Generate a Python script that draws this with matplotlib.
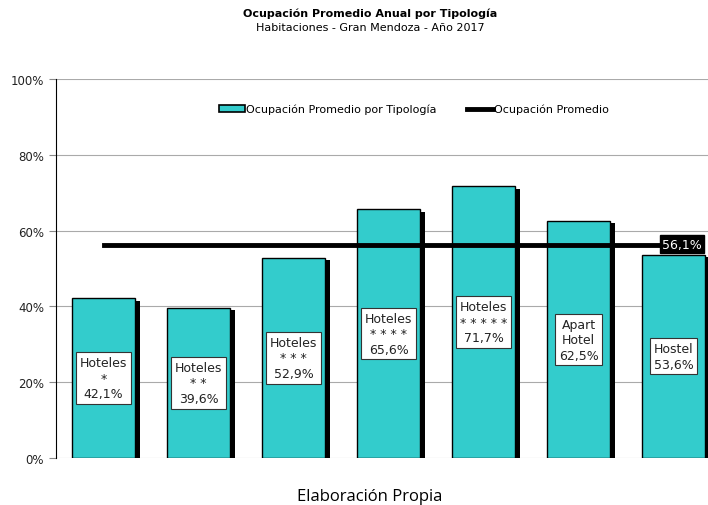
import numpy as np
import matplotlib.pyplot as plt
from matplotlib.lines import Line2D
from matplotlib.patches import Patch

categorias = ["Hoteles\n*", "Hoteles\n* *", "Hoteles\n* * *", "Hoteles\n* * * *",
              "Hoteles\n* * * * *", "Apart\nHotel", "Hostel"]
ocupacion = [42.1, 39.6, 52.9, 65.6, 71.7, 62.5, 53.6]
promedio = 56.1

teal = "#33CCCC"

def fmt(v):
    return f"{v:.1f}%".replace(".", ",")

fig = plt.figure(figsize=(7.08, 5.06), dpi=100)
ax = fig.add_axes([56/708, 47/506, (708-56)/708, (459-80)/506])

x = np.arange(len(ocupacion))
w = 0.67
# sombra de las barras
ax.bar(x + 0.045, ocupacion, width=w, bottom=-0.6, color="black", zorder=2)
ax.bar(x, ocupacion, width=w, color=teal, edgecolor="black", linewidth=1.0, zorder=3)

for xi, v, cat in zip(x, ocupacion, categorias):
    ax.text(xi, v/2, cat + "\n" + fmt(v), ha="center", va="center", fontsize=9,
            linespacing=1.25, color="#222222", zorder=5,
            bbox=dict(boxstyle="square,pad=0.3", fc="white", ec="#333333", lw=0.8))

ax.plot([x[0], x[-1]], [promedio, promedio], color="black", lw=3.5, zorder=4)
ax.text(x[-1] + 0.09, promedio + 0.3, fmt(promedio), ha="center", va="center",
        fontsize=9, color="white", zorder=6,
        bbox=dict(boxstyle="square,pad=0.2", fc="black", ec="black"))

ax.set_xlim(-0.5, -0.5 + 652/95)
ax.set_ylim(0, 100)
ax.set_yticks([0, 20, 40, 60, 80, 100])
ax.set_yticklabels([f"{t}%" for t in range(0, 101, 20)], fontsize=8.5, color="#222222")
ax.set_xticks([])
ax.yaxis.grid(True, color="#aaaaaa", lw=0.8, zorder=0)
ax.set_axisbelow(True)
for s in ["top", "right", "bottom"]:
    ax.spines[s].set_visible(False)
ax.spines["left"].set_color("black")
ax.tick_params(axis="y", length=5, color="#888888", width=0.8)

handles = [Patch(fc=teal, ec="black", lw=1.2),
           Line2D([0], [0], color="black", lw=3.5)]
ax.legend(handles, ["Ocupación Promedio por Tipología", "Ocupación Promedio"],
          loc="center", bbox_to_anchor=((414 - 56)/652, (459-110)/379), ncol=2,
          frameon=False, fontsize=8, handlelength=2.3, handletextpad=0.1,
          columnspacing=2.8, handleheight=0.6)

fig.text(370/708, 1 - 14/506, "Ocupación Promedio Anual por Tipología", ha="center",
         va="center", fontsize=8, fontweight="bold")
fig.text(370/708, 1 - 28/506, "Habitaciones - Gran Mendoza - Año 2017", ha="center",
         va="center", fontsize=8)
fig.text(370/708, 1 - 497/506, "Elaboración Propia", ha="center", va="center",
         fontsize=12, family="Open Sans")

fig.savefig("out.png", dpi=100)
